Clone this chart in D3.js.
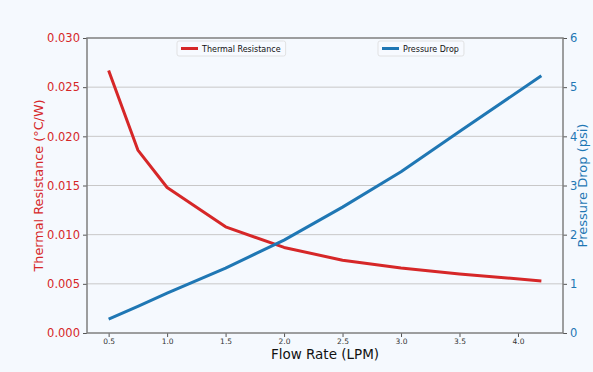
<!DOCTYPE html>
<html>
<head>
<meta charset="utf-8">
<script src="https://cdn.jsdelivr.net/npm/d3@7"></script>
<style>
  body { margin: 0; background: #f5f9fe; }
  svg { display: block; }
</style>
</head>
<body>
<div id="chart"></div>
<script>
// data
const flowRate = [0.5, 0.75, 1.0, 1.5, 2.0, 2.5, 3.0, 3.5, 4.2];
const thermalResistance = [0.0267, 0.0186, 0.0148, 0.0108, 0.0087, 0.0074, 0.0066, 0.0060, 0.0053];
const pressureDrop = [0.28, 0.54, 0.81, 1.32, 1.89, 2.56, 3.28, 4.1, 5.23];
const xTicks = [0.5, 1.0, 1.5, 2.0, 2.5, 3.0, 3.5, 4.0];
const leftTicks = [0, 0.005, 0.01, 0.015, 0.02, 0.025, 0.03];
const rightTicks = [0, 1, 2, 3, 4, 5, 6];

const W = 593, H = 372;
const margin = { top: 38, right: 30, bottom: 39, left: 87 };
const red = "#d62728", blue = "#1f77b4", spine = "#7f7f7f";

const svg = d3.select("#chart").append("svg")
  .attr("width", W).attr("height", H)
  .attr("font-family", "'DejaVu Sans', sans-serif");

svg.append("rect").attr("width", W).attr("height", H).attr("fill", "#f5f9fe");

const x = d3.scaleLinear().domain([0.315, 4.385]).range([margin.left, W - margin.right]);
const yL = d3.scaleLinear().domain([0, 0.03]).range([H - margin.bottom, margin.top]);
const yR = d3.scaleLinear().domain([0, 6]).range([H - margin.bottom, margin.top]);

// grid
svg.append("g")
  .selectAll("line")
  .data(leftTicks.slice(1, -1))
  .join("line")
  .attr("x1", margin.left).attr("x2", W - margin.right)
  .attr("y1", d => yL(d)).attr("y2", d => yL(d))
  .attr("stroke", "#c8c8c8").attr("stroke-width", 1);

// lines
const series = [
  { vals: thermalResistance, y: yL, color: red },
  { vals: pressureDrop, y: yR, color: blue }
];
series.forEach(s => {
  svg.append("path")
    .datum(flowRate.map((f, i) => [f, s.vals[i]]))
    .attr("fill", "none")
    .attr("stroke", s.color)
    .attr("stroke-width", 3)
    .attr("stroke-linejoin", "round")
    .attr("d", d3.line().x(d => x(d[0])).y(d => s.y(d[1])));
});

// axes
const xAxis = svg.append("g")
  .attr("transform", `translate(0,${H - margin.bottom})`)
  .call(d3.axisBottom(x).tickValues(xTicks).tickFormat(d3.format(".1f")).tickSize(4).tickPadding(2).tickSizeOuter(0));
xAxis.selectAll("text").attr("font-size", 7.5).attr("fill", "#333");

const leftAxis = svg.append("g")
  .attr("transform", `translate(${margin.left},0)`)
  .call(d3.axisLeft(yL).tickValues(leftTicks).tickFormat(d3.format(".3f")).tickSize(4).tickSizeOuter(0));
leftAxis.selectAll("text").attr("font-size", 11.5).attr("fill", red);

const rightAxis = svg.append("g")
  .attr("transform", `translate(${W - margin.right},0)`)
  .call(d3.axisRight(yR).tickValues(rightTicks).tickFormat(d3.format("d")).tickSize(4).tickSizeOuter(0));
rightAxis.selectAll("text").attr("font-size", 11.5).attr("fill", blue);

[xAxis, leftAxis, rightAxis].forEach(a => {
  a.select(".domain").remove();
  a.attr("font-family", null);
  a.selectAll(".tick line").attr("stroke", "#555");
});

// frame
svg.append("rect")
  .attr("x", margin.left).attr("y", margin.top)
  .attr("width", W - margin.left - margin.right)
  .attr("height", H - margin.top - margin.bottom)
  .attr("fill", "none").attr("stroke", spine).attr("stroke-width", 1.5);

// axis titles
svg.append("text")
  .attr("x", (margin.left + W - margin.right) / 2).attr("y", 359)
  .attr("text-anchor", "middle").attr("font-size", 13.5).attr("fill", "#111")
  .text("Flow Rate (LPM)");

svg.append("text")
  .attr("transform", `translate(43,${(margin.top + H - margin.bottom) / 2}) rotate(-90)`)
  .attr("text-anchor", "middle").attr("font-size", 12.8).attr("fill", red)
  .text("Thermal Resistance (°C/W)");

svg.append("text")
  .attr("transform", `translate(587,${(margin.top + H - margin.bottom) / 2}) rotate(-90)`)
  .attr("text-anchor", "middle").attr("font-size", 13).attr("fill", blue)
  .text("Pressure Drop (psi)");

// legends
const legends = [
  { label: "Thermal Resistance", color: red, x: 177 },
  { label: "Pressure Drop", color: blue, x: 378 }
];
legends.forEach(l => {
  const g = svg.append("g").attr("transform", `translate(${l.x},41)`);
  const t = g.append("text").attr("x", 25).attr("y", 10.5)
    .attr("font-size", 8).attr("fill", "#111").text(l.label);
  const w = t.node().getComputedTextLength() + 30;
  g.insert("rect", "text").attr("width", w).attr("height", 15).attr("rx", 2)
    .attr("fill", "#f7faff").attr("stroke", "#dcdcdc").attr("stroke-width", 0.8);
  g.append("line").attr("x1", 4).attr("x2", 21).attr("y1", 7.5).attr("y2", 7.5)
    .attr("stroke", l.color).attr("stroke-width", 3);
});
</script>
</body>
</html>
